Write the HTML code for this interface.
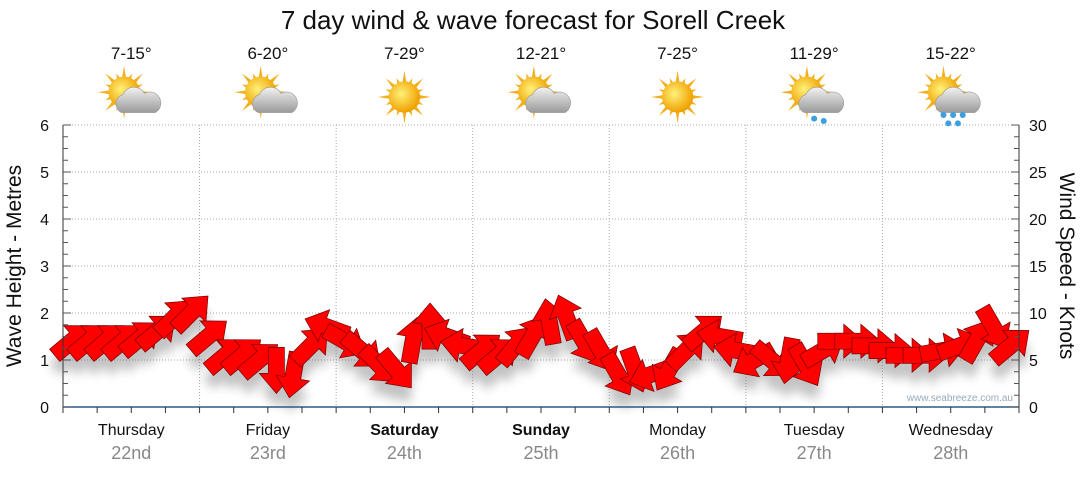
<!DOCTYPE html>
<html><head><meta charset="utf-8"><style>
body{margin:0;background:#fff;font-family:"Liberation Sans","DejaVu Sans",sans-serif}
</style></head><body>
<svg id="c" width="1080" height="475" xmlns="http://www.w3.org/2000/svg">
<defs>
<radialGradient id="sun" cx="0.4" cy="0.4" r="0.6"><stop offset="0" stop-color="#fff27a"/><stop offset="1" stop-color="#f0a000"/></radialGradient>
<linearGradient id="cloud" x1="0" y1="0" x2="0" y2="1"><stop offset="0" stop-color="#f2f2f2"/><stop offset="1" stop-color="#9a9a9a"/></linearGradient>
<filter id="sh" x="-20%" y="-20%" width="140%" height="160%"><feGaussianBlur stdDeviation="5"/></filter>
</defs>
<text x="533" y="29" text-anchor="middle" font-size="26" fill="#111">7 day wind &amp; wave forecast for Sorell Creek</text>
<g id="grid"></g><g id="icons"></g><g id="shadow" filter="url(#sh)" opacity="0.35"></g><g id="arrows"></g><g id="axes"></g>
<text transform="translate(21,266) rotate(-90)" text-anchor="middle" font-size="21" fill="#111">Wave Height - Metres</text>
<text transform="translate(1060,266) rotate(90)" text-anchor="middle" font-size="21" fill="#111">Wind Speed - Knots</text>
<text x="1013" y="401" text-anchor="end" font-size="10" fill="#9ab">www.seabreeze.com.au</text>
</svg>
<script>
const days=["Thursday","Friday","Saturday","Sunday","Monday","Tuesday","Wednesday"];
const dates=["22nd","23rd","24th","25th","26th","27th","28th"];
const temps=["7-15°","6-20°","7-29°","12-21°","7-25°","11-29°","15-22°"];
const icons=["pc","pc","sun","pc","sun","rain","rain2"];
const waveTicks=[0,1,2,3,4,5,6];
const windTicks=[0,5,10,15,20,25,30];
const windSpeed=[7,7,7,7,7.3,8,9.5,10, 7.5,5.5,5.5,5,4,3.5,6.5,8.5, 7,6,4.5,4,7,8.5,7.5,6.5, 6,5.5,6.5,7.5,9,9.5,7,6, 3.5,4,3.5,4,6,8,7.5,6, 5,5,5,4.5,6,7,7,6.5, 6,5.5,5.5,6,6.5,7,8.5,6.5];
const windDir=[-40,-40,-40,-40,-40,-40,-45,-45, -40,-40,-40,-40,90,100,-45,200, 30,40,45,50,-80,-90,200,190, -40,-40,-50,-60,-100,-110,60,60, 60,70,160,120,-45,-40,190,190, 150,40,100,60,-30,0,0,0, 0,0,0,-10,-20,-60,60,-40];
const NS="http://www.w3.org/2000/svg";
const X0=63,X1=1019,Y0=407,Y1=125,DW=(X1-X0)/7;
const yW=v=>Y0-(v/6)*(Y0-Y1), yK=v=>Y0-(v/30)*(Y0-Y1), xI=i=>X0+DW*(i+0.5)/8;
function mk(t,a,p){const e=document.createElementNS(NS,t);for(const k in a)e.setAttribute(k,a[k]);(p||document.getElementById('c')).appendChild(e);return e;}
const G=document.getElementById('grid'),A=document.getElementById('axes'),I=document.getElementById('icons');
waveTicks.forEach((v,i)=>{if(v>0){const l=mk('line',{x1:X0,x2:X1,y1:yW(v),y2:yW(v),stroke:'#aaa','stroke-dasharray':'1,2'},G);}
 const t=mk('text',{x:49,y:yW(v)+6,'text-anchor':'end','font-size':16,fill:'#111'},A);t.textContent=v;});
windTicks.forEach(v=>{const t=mk('text',{x:1029,y:yK(v)+6,'font-size':16,fill:'#111'},A);t.textContent=v;});
for(let d=1;d<7;d++){const l=mk('line',{x1:X0+DW*d,x2:X0+DW*d,y1:Y1,y2:Y0,stroke:'#aaa','stroke-dasharray':'1,2'},G);}
mk('line',{x1:X0,x2:X0,y1:Y1,y2:Y0,stroke:'#333'},A);mk('line',{x1:X1,x2:X1,y1:Y1,y2:Y0,stroke:'#333'},A);
mk('line',{x1:X0,x2:X1,y1:Y0,y2:Y0,stroke:'#2a5a8a','stroke-width':1.5},A);
for(let v=0;v<=6;v+=0.25){const y=yW(v);const big=v%1==0;mk('line',{x1:X0,x2:X0+(big?8:5),y1:y,y2:y,stroke:'#555'},A);mk('line',{x1:X1,x2:X1-(big?8:5),y1:y,y2:y,stroke:'#555'},A);}
for(let q=0;q<=28;q++){const x=X0+DW*q/4;mk('line',{x1:x,x2:x,y1:Y0,y2:Y0+6,stroke:'#333'},A);}
days.forEach((d,i)=>{const cx=X0+DW*(i+0.5);
 const t=mk('text',{x:cx,y:435,'text-anchor':'middle','font-size':16,fill:'#111','font-weight':(i==2||i==3)?'bold':'normal'},A);t.textContent=d;
 const t2=mk('text',{x:cx,y:459,'text-anchor':'middle','font-size':18,fill:'#888'},A);t2.textContent=dates[i];
 const t3=mk('text',{x:cx,y:59,'text-anchor':'middle','font-size':17,fill:'#111'},A);t3.textContent=temps[i];
 const g=mk('g',{transform:`translate(${cx},97) scale(1.2)`},I);
 const sx=icons[i]=='sun'?0:-6, sy=icons[i]=='sun'?0:-4;
 for(let k=0;k<16;k++){const a=k*Math.PI/8,r=k%2?17:22;mk('polygon',{points:`${sx+Math.cos(a)*r},${sy+Math.sin(a)*r} ${sx+Math.cos(a+0.2)*10},${sy+Math.sin(a+0.2)*10} ${sx+Math.cos(a-0.2)*10},${sy+Math.sin(a-0.2)*10}`,fill:'#f0b020'},g);}
 mk('circle',{cx:sx,cy:sy,r:13,fill:'url(#sun)'},g);
 if(icons[i]!='sun'){mk('path',{d:'M-8,13 a8,8 0 0 1 1,-15 a10,10 0 0 1 18,-1 a8,8 0 0 1 9,16 z',fill:'url(#cloud)',stroke:'#999','stroke-width':0.5},g);}
 if(icons[i]=='rain'){[[0,18],[8,20]].forEach(p=>mk('circle',{cx:p[0],cy:p[1],r:2.5,fill:'#3aa0e0'},g));}
 if(icons[i]=='rain2'){[[-6,15],[2,15],[10,15],[-2,22],[6,22]].forEach(p=>mk('circle',{cx:p[0],cy:p[1],r:2.5,fill:'#3aa0e0'},g));}
});
const pts="-22,-8 4,-8 4,-17 24,0 4,17 4,8 -22,8";
const S=document.getElementById('shadow'),AR=document.getElementById('arrows');
windSpeed.forEach((v,i)=>{mk('polygon',{points:pts,fill:'#555',transform:`translate(${xI(i)},${yK(v)+14}) rotate(${windDir[i]})`},S);});
windSpeed.forEach((v,i)=>{const p=mk('polygon',{points:pts,fill:'#ff0000',stroke:'#700','stroke-width':0.7,transform:`translate(${xI(i)},${yK(v)}) rotate(${windDir[i]})`},AR);

});
</script>
</body></html>
